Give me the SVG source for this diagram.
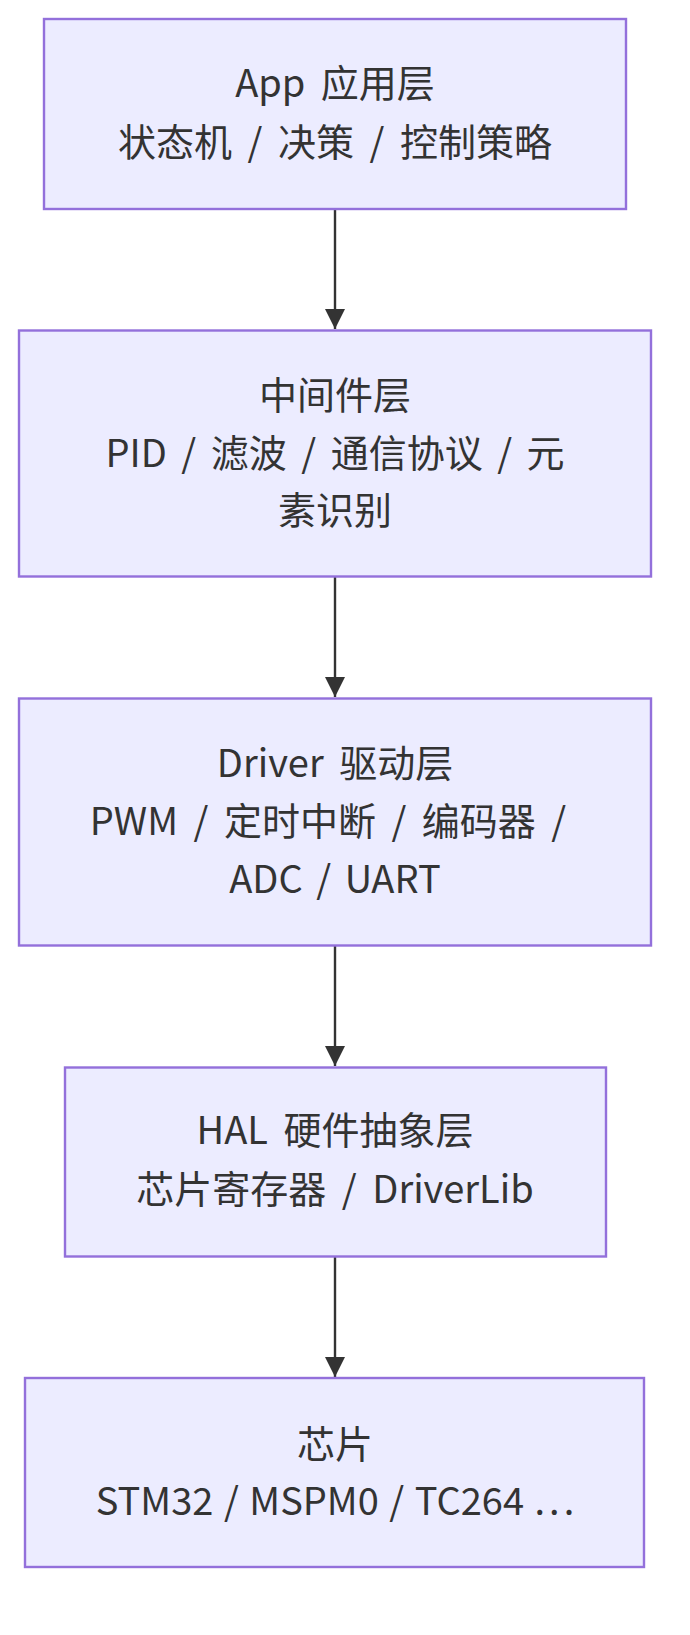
<svg xmlns="http://www.w3.org/2000/svg" width="690" height="1635" viewBox="0 0 690 1635">
<style>
.node rect{fill:#ECECFF;stroke:#9370DB;stroke-width:2.4}
.node text{font-family:"Noto Sans CJK SC","Noto Sans",sans-serif;font-size:38px;fill:#333;text-anchor:middle;word-spacing:7px}
.edge{stroke:#333;stroke-width:2.4;fill:none}
</style>
<defs>
<marker id="arrow" markerUnits="userSpaceOnUse" markerWidth="22" markerHeight="20" refX="20" refY="10" orient="auto">
<path d="M0,0 L20,10 L0,20 Z" fill="#333"/>
</marker>
</defs>
<rect width="690" height="1635" fill="#ffffff"/>
<g id="edges">
<line class="edge" x1="335" y1="209" x2="335" y2="329" marker-end="url(#arrow)"/>
<line class="edge" x1="335" y1="577" x2="335" y2="697" marker-end="url(#arrow)"/>
<line class="edge" x1="335" y1="946" x2="335" y2="1066" marker-end="url(#arrow)"/>
<line class="edge" x1="335" y1="1256" x2="335" y2="1377" marker-end="url(#arrow)"/>
</g>
<g id="app" class="node">
<rect x="44" y="19" width="582" height="190"/>
<text x="335" y="97">App 应用层</text>
<text x="335" y="156">状态机 / 决策 / 控制策略</text>
</g>
<g id="middleware" class="node">
<rect x="19" y="330.5" width="632" height="246"/>
<text x="335" y="409">中间件层</text>
<text x="335" y="467" style="word-spacing:6px">PID / 滤波 / 通信协议 / 元</text>
<text x="335" y="524">素识别</text>
</g>
<g id="driver" class="node">
<rect x="19" y="698.5" width="632" height="247"/>
<text x="335" y="777">Driver 驱动层</text>
<text x="328" y="835">PWM / 定时中断 / 编码器 /</text>
<text x="335" y="893" style="word-spacing:5px">ADC / UART</text>
</g>
<g id="hal" class="node">
<rect x="65" y="1067.5" width="541" height="189"/>
<text x="335" y="1144">HAL 硬件抽象层</text>
<text x="335" y="1203">芯片寄存器 / DriverLib</text>
</g>
<g id="chip" class="node">
<rect x="25" y="1378" width="619" height="189"/>
<text x="335" y="1458">芯片</text>
<text x="337" y="1515" style="word-spacing:2px">STM32 / MSPM0 / TC264 <tspan letter-spacing="4px">...</tspan></text>
</g>
</svg>
